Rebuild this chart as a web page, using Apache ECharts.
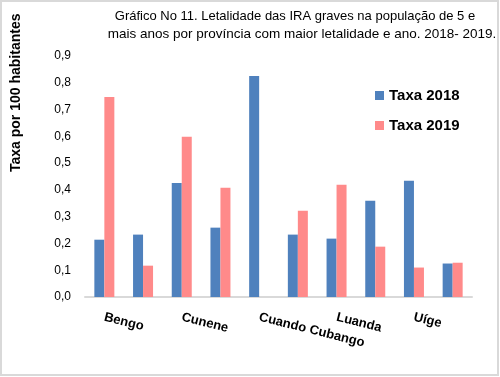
<!DOCTYPE html>
<html><head><meta charset="utf-8">
<script src="https://cdn.jsdelivr.net/npm/echarts@6/dist/echarts.min.js"></script>
<style>html,body{margin:0;padding:0;background:#fff}#c{width:500px;height:377px}</style>
</head><body><div id="c"></div>
<script>
const categories = ["Bengo", "", "Cunene", "", "Cuando Cubango", "", "Luanda", "", "Uíge", ""];
const taxa2018 = [0.214, 0.233, 0.426, 0.259, 0.825, 0.233, 0.218, 0.359, 0.434, 0.125];
const taxa2019 = [0.747, 0.117, 0.598, 0.408, 0, 0.322, 0.419, 0.188, 0.110, 0.128];
const yTicks = ["0,0","0,1","0,2","0,3","0,4","0,5","0,6","0,7","0,8","0,9"];
const titleLines = ["Gráfico No 11. Letalidade das IRA graves na população de 5 e", "mais anos por província com maior letalidade e ano. 2018- 2019."];
const yName = "Taxa por 100 habitantes";

const chart = echarts.init(document.getElementById('c'), null, {renderer: 'canvas'});
const F = 'Liberation Sans, Arial, sans-serif';
const titleStyle = {fontFamily: F, fontSize: 13, fontWeight: 'normal', color: '#000'};
chart.setOption({
  animation: false,
  backgroundColor: '#fff',
  title: [
    {text: titleLines[0], left: 290, top: 5, textAlign: 'center', textStyle: titleStyle},
    {text: titleLines[1], left: 297, top: 22, textAlign: 'center', textStyle: Object.assign({}, titleStyle, {fontSize: 13.5})}
  ],
  legend: {
    orient: 'vertical', left: 370, top: 83, itemGap: 15,
    itemWidth: 9, itemHeight: 9, icon: 'rect',
    textStyle: {fontFamily: F, fontSize: 15, fontWeight: 'bold', color: '#000'},
    data: ['Taxa 2018', 'Taxa 2019']
  },
  grid: {left: 85, right: 28, top: 56, bottom: 80, containLabel: false},
  xAxis: {
    type: 'category', data: categories,
    axisLine: {lineStyle: {color: '#d9d9d9', width: 2}},
    axisTick: {show: false},
    axisLabel: {interval: 0, rotate: -14, margin: 20, fontFamily: F, fontSize: 13, fontWeight: 'bold', color: '#000'}
  },
  yAxis: {
    type: 'value', min: 0, max: 0.9, interval: 0.1,
    axisLine: {show: false}, axisTick: {show: false}, splitLine: {show: false},
    axisLabel: {margin: 14, fontFamily: F, fontSize: 12, color: '#000',
      formatter: v => yTicks[Math.round(v * 10)]}
  },
  graphic: [
    {type: 'text', rotation: Math.PI / 2, x: 9, y: 172,
      style: {text: yName, fontFamily: F, fontSize: 14, fontWeight: 'bold', fill: '#000'}},
    {type: 'rect', shape: {x: 1, y: 1, width: 497, height: 374}, style: {fill: 'none', stroke: '#d9d9d9', lineWidth: 2}, silent: true}
  ],
  series: [
    {name: 'Taxa 2018', type: 'bar', data: taxa2018, barWidth: 10, barGap: '0%', itemStyle: {color: '#4F81BD'}},
    {name: 'Taxa 2019', type: 'bar', data: taxa2019, barWidth: 10, barGap: '0%', itemStyle: {color: '#FF8A8A'}}
  ]
});
</script></body></html>
